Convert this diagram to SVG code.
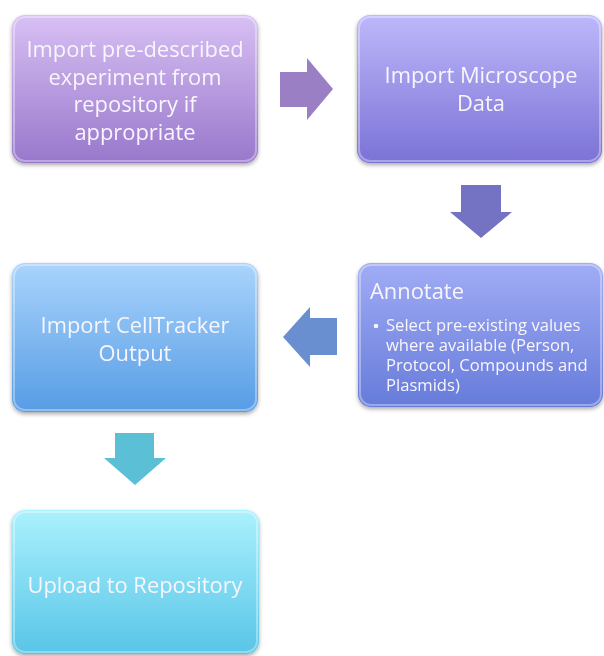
<svg xmlns="http://www.w3.org/2000/svg" width="604" height="656" viewBox="0 0 604 656">
<defs>
<style>
.t{font-family:"Open Sans","Noto Sans","Liberation Sans",sans-serif;fill:#f8f5fc;text-anchor:middle;font-size:21.9px}
.b{font-family:"Open Sans","Noto Sans","Liberation Sans",sans-serif;fill:#f8f5fc;font-size:16.6px}
.box{filter:url(#sh)}
.hl{fill:none;stroke:#ffffff;stroke-opacity:0.35;stroke-width:2}
</style>
<filter id="sh" x="-10%" y="-10%" width="120%" height="125%">
<feGaussianBlur in="SourceAlpha" stdDeviation="2"/>
<feOffset dx="0" dy="2" result="o"/>
<feComponentTransfer><feFuncA type="linear" slope="0.35"/></feComponentTransfer>
<feMerge><feMergeNode/><feMergeNode in="SourceGraphic"/></feMerge>
</filter>
<linearGradient id="g1" x1="0" y1="0" x2="0" y2="1"><stop offset="0" stop-color="#d8c0f4"/><stop offset="1" stop-color="#9877cb"/></linearGradient>
<linearGradient id="g2" x1="0" y1="0" x2="0" y2="1"><stop offset="0" stop-color="#bdb8fa"/><stop offset="1" stop-color="#7b72d6"/></linearGradient>
<linearGradient id="g3" x1="0" y1="0" x2="0" y2="1"><stop offset="0" stop-color="#a0acf5"/><stop offset="1" stop-color="#667bda"/></linearGradient>
<linearGradient id="g4" x1="0" y1="0" x2="0" y2="1"><stop offset="0" stop-color="#a9d4fc"/><stop offset="1" stop-color="#579ce5"/></linearGradient>
<linearGradient id="g5" x1="0" y1="0" x2="0" y2="1"><stop offset="0" stop-color="#abf1fd"/><stop offset="1" stop-color="#58c5e7"/></linearGradient>
</defs>
<rect width="604" height="656" fill="#ffffff"/>
<g id="connectors">
<polygon points="280,72 307,72 307,58 333,89 307,120 307,107 280,107" fill="#9a7fc4"/>
<polygon points="461,185 501,185 501,212 512,212 481,238 450,212 461,212" fill="#7472c2"/>
<polygon points="337,318 310,318 310,307 283,337 310,367 310,355 337,355" fill="#6a8fd0"/>
<polygon points="115,433 154,433 154,458 166,458 135,485 104,458 115,458" fill="#5bbfd5"/>
</g>
<g id="n1" class="box">
<rect x="12" y="15" width="246" height="148" rx="13" fill="url(#g1)"/>
<rect x="14" y="17" width="242" height="144" rx="11" class="hl"/>
<text class="t" x="135" y="57">Import pre-described</text>
<text class="t" x="135" y="84.5">experiment from</text>
<text class="t" x="135" y="112">repository if</text>
<text class="t" x="135" y="139.5">appropriate</text>
</g>
<g id="n2" class="box">
<rect x="357" y="15" width="245" height="148" rx="13" fill="url(#g2)"/>
<rect x="359" y="17" width="241" height="144" rx="11" class="hl"/>
<text class="t" x="481" y="83">Import Microscope</text>
<text class="t" x="481" y="111">Data</text>
</g>
<g id="n3" class="box">
<rect x="358" y="263" width="245" height="144" rx="13" fill="url(#g3)"/>
<rect x="360" y="265" width="241" height="140" rx="11" class="hl"/>
<text class="t" x="370" y="299" style="text-anchor:start">Annotate</text>
<circle cx="376" cy="326" r="2.3" fill="#f8f5fc"/>
<text class="b" x="386" y="331">Select pre-existing values</text>
<text class="b" x="386" y="351">where available (Person,</text>
<text class="b" x="386" y="371">Protocol, Compounds and</text>
<text class="b" x="386" y="391">Plasmids)</text>
</g>
<g id="n4" class="box">
<rect x="12" y="263" width="246" height="149" rx="13" fill="url(#g4)"/>
<rect x="14" y="265" width="242" height="145" rx="11" class="hl"/>
<text class="t" x="135" y="333">Import CellTracker</text>
<text class="t" x="135" y="361">Output</text>
</g>
<g id="n5" class="box">
<rect x="12" y="510" width="247" height="144" rx="13" fill="url(#g5)"/>
<rect x="14" y="512" width="243" height="140" rx="11" class="hl"/>
<text class="t" x="135" y="593">Upload to Repository</text>
</g>
</svg>
